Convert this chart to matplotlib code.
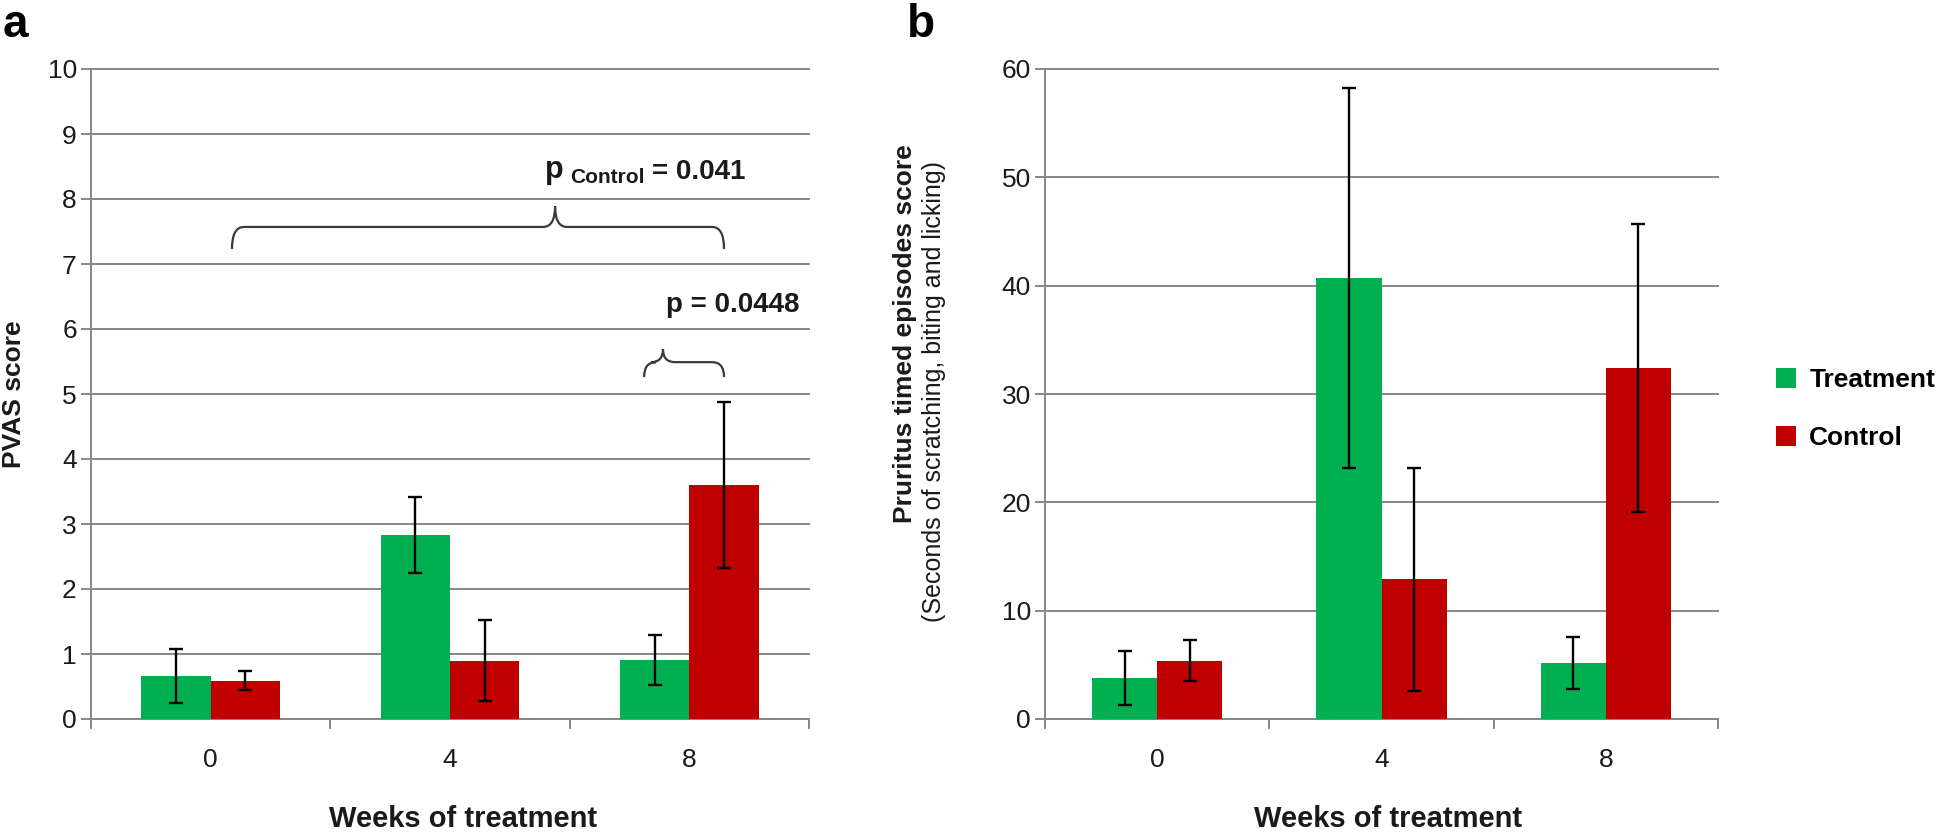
import numpy as np
import matplotlib
matplotlib.use('Agg')
import matplotlib.pyplot as plt
from matplotlib.path import Path
from matplotlib.patches import PathPatch, Patch

plt.rcParams['font.family'] = ['Liberation Sans', 'DejaVu Sans']

# data
weeks = ['0', '4', '8']
pvas_treat = [0.66, 2.83, 0.91]
pvas_treat_err = [0.42, 0.58, 0.39]
pvas_ctrl = [0.59, 0.90, 3.60]
pvas_ctrl_err = [0.15, 0.63, 1.27]
prur_treat = [3.8, 40.7, 5.2]
prur_treat_err = [2.5, 17.5, 2.4]
prur_ctrl = [5.4, 12.9, 32.4]
prur_ctrl_err = [1.9, 10.3, 13.3]
series_names = ['Treatment', 'Control']

GREEN = '#00b050'
RED = '#c00000'
GRAY = '#878787'
TXT = '#1a1a1a'
W, H, DPI = 1946, 833, 100
bar_w = 0.29


def brace(ax, x0, x1, xtip, y_end, y_mid, y_tip, r=0.05):
    # curly bracket drawn with quadratic curves
    verts = [(x0, y_end), (x0, y_mid), (x0 + r, y_mid),
             (xtip - r, y_mid), (xtip, y_mid), (xtip, y_tip),
             (xtip, y_mid), (xtip + r, y_mid),
             (x1 - r, y_mid), (x1, y_mid), (x1, y_end)]
    codes = [Path.MOVETO, Path.CURVE3, Path.CURVE3,
             Path.LINETO, Path.CURVE3, Path.CURVE3,
             Path.CURVE3, Path.CURVE3,
             Path.LINETO, Path.CURVE3, Path.CURVE3]
    ax.add_patch(PathPatch(Path(verts, codes), fill=False, edgecolor='#3a3a3a',
                           lw=1.6, clip_on=False))


def draw_panel(ax, treat, treat_err, ctrl, ctrl_err, ymax, ystep):
    x = np.arange(len(weeks))
    ekw = dict(ecolor='black', elinewidth=1.7, capsize=5, capthick=1.7)
    ax.bar(x - bar_w / 2, treat, bar_w, color=GREEN, yerr=treat_err, error_kw=ekw,
           zorder=3, label=series_names[0])
    ax.bar(x + bar_w / 2, ctrl, bar_w, color=RED, yerr=ctrl_err, error_kw=ekw,
           zorder=3, label=series_names[1])
    ax.set_xlim(-0.5, len(weeks) - 0.5)
    ax.set_ylim(0, ymax)
    ax.set_yticks(np.arange(0, ymax + ystep / 2, ystep))
    ax.yaxis.grid(True, color=GRAY, lw=1.4, zorder=0)
    for gl in ax.get_ygridlines():
        gl.set_clip_on(False)
    ax.set_axisbelow(True)
    # boundary ticks (major) and centred labels (minor)
    ax.set_xticks(np.arange(len(weeks) + 1) - 0.5)
    ax.set_xticklabels([])
    ax.set_xticks(x, minor=True)
    ax.set_xticklabels(weeks, minor=True)
    ax.tick_params(axis='x', which='major', length=7.2, width=1.4, color=GRAY, direction='out')
    ax.tick_params(axis='x', which='minor', length=0, pad=21, labelsize=19, labelcolor=TXT)
    ax.tick_params(axis='y', length=7.2, width=1.4, color=GRAY, pad=3, labelsize=19,
                   labelcolor=TXT)
    for s in ['top', 'right']:
        ax.spines[s].set_visible(False)
    for s in ['left', 'bottom']:
        ax.spines[s].set_color(GRAY)
        ax.spines[s].set_linewidth(1.4)


fig = plt.figure(figsize=(W / DPI, H / DPI), dpi=DPI)
ax_a = fig.add_axes([91 / W, 1 - 719 / H, (809 - 91) / W, 650 / H])
ax_b = fig.add_axes([1045 / W, 1 - 719 / H, (1718 - 1045) / W, 650 / H])

draw_panel(ax_a, pvas_treat, pvas_treat_err, pvas_ctrl, pvas_ctrl_err, 10, 1)
draw_panel(ax_b, prur_treat, prur_treat_err, prur_ctrl, prur_ctrl_err, 60, 10)

# significance brackets on panel a
brace(ax_a, 0.089, 2.145, 1.439, 7.23, 7.57, 7.89)
brace(ax_a, 1.811, 2.145, 1.890, 5.26, 5.49, 5.69)
ax_a.text(1.397, 8.32, 'p', fontsize=22, weight='bold', color=TXT, va='baseline')
ax_a.annotate('Control', xy=(1.397, 8.32), xytext=(18, -3.6), textcoords='offset points',
              fontsize=15, weight='bold', color=TXT, va='baseline')
ax_a.annotate('= 0.041', xy=(1.397, 8.32), xytext=(77, -0.7), textcoords='offset points',
              fontsize=20, weight='bold', color=TXT, va='baseline')
ax_a.text(1.903, 6.26, 'p = 0.0448', fontsize=20, weight='bold', color=TXT, va='baseline')

# axis titles
fig.text(14 / W, 1 - 394 / H, 'PVAS score', rotation=90, fontsize=19, weight='bold',
         ha='center', va='center', color=TXT)
fig.text(905 / W, 1 - 334 / H, 'Pruritus timed episodes score', rotation=90, fontsize=19,
         weight='bold', ha='center', va='center', color=TXT)
fig.text(934 / W, 1 - 391 / H, '(Seconds of scratching, biting and licking)', rotation=90,
         fontsize=18, ha='center', va='center', color=TXT)
fig.text(463 / W, 1 - 827 / H, 'Weeks of treatment', fontsize=21, weight='bold',
         ha='center', va='baseline', color=TXT)
fig.text(1388 / W, 1 - 827 / H, 'Weeks of treatment', fontsize=21, weight='bold',
         ha='center', va='baseline', color=TXT)

# panel letters
fig.text(3 / W, 1 - 37 / H, 'a', fontsize=33, weight='bold', va='baseline', color='black')
fig.text(907 / W, 1 - 37 / H, 'b', fontsize=33, weight='bold', va='baseline', color='black')

handles = [Patch(facecolor=GREEN), Patch(facecolor=RED)]
fig.legend(handles, series_names, loc='upper left', bbox_to_anchor=(1776 / W, 1 - 368 / H),
           frameon=False, handlelength=0.76, handleheight=0.76, handletextpad=0.5,
           labelspacing=1.3, borderpad=0, borderaxespad=0,
           prop=dict(size=19, weight='bold'))

fig.savefig('out.png', dpi=DPI)
